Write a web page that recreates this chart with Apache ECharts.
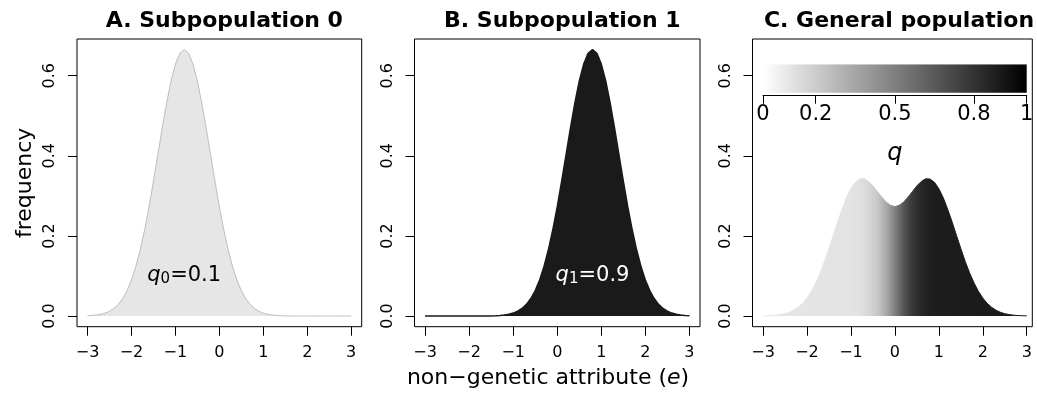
<!DOCTYPE html>
<html>
<head>
<meta charset="utf-8">
<script src="https://cdn.jsdelivr.net/npm/echarts@6/dist/echarts.min.js"></script>
<style>
html,body{margin:0;padding:0;background:#fff;}
#chart{width:1037px;height:395px;}
</style>
</head>
<body>
<div id="chart"></div>
<script>
// ---- data ----
const xs = [-3.0,-2.9,-2.8,-2.7,-2.6,-2.5,-2.4,-2.3,-2.2,-2.1,-2.0,-1.9,-1.8,-1.7,-1.6,-1.5,-1.4,-1.3,-1.2,-1.1,-1.0,-0.9,-0.8,-0.7,-0.6,-0.5,-0.4,-0.3,-0.2,-0.1,0.0,0.1,0.2,0.3,0.4,0.5,0.6,0.7,0.8,0.9,1.0,1.1,1.2,1.3,1.4,1.5,1.6,1.7,1.8,1.9,2.0,2.1,2.2,2.3,2.4,2.5,2.6,2.7,2.8,2.9,3.0];
const freqSub0 = [0.0008,0.0015,0.0026,0.0044,0.0074,0.0120,0.0190,0.0292,0.0437,0.0636,0.090,0.124,0.166,0.216,0.273,0.337,0.403,0.470,0.532,0.587,0.629,0.656,0.665,0.656,0.629,0.587,0.532,0.470,0.403,0.337,0.273,0.216,0.166,0.124,0.090,0.0636,0.0437,0.0292,0.0190,0.0120,0.0074,0.0044,0.0026,0.0015,0.0008,0.0004,0.0002,0.0001,0,0,0,0,0,0,0,0,0,0,0,0,0];
const freqSub1 = [0,0,0,0,0,0,0,0,0,0,0,0,0,0.0001,0.0002,0.0004,0.0008,0.0015,0.0026,0.0044,0.0074,0.0120,0.0190,0.0292,0.0437,0.0636,0.090,0.124,0.166,0.216,0.273,0.337,0.403,0.470,0.532,0.587,0.629,0.656,0.665,0.656,0.629,0.587,0.532,0.470,0.403,0.337,0.273,0.216,0.166,0.124,0.090,0.0636,0.0437,0.0292,0.0190,0.0120,0.0074,0.0044,0.0026,0.0015,0.0008];
const freqGeneral = [0.0004,0.0008,0.0013,0.0022,0.0037,0.0060,0.0095,0.0146,0.0219,0.0318,0.045,0.062,0.083,0.108,0.1365,0.1687,0.2019,0.2358,0.267,0.2957,0.318,0.334,0.342,0.3426,0.336,0.325,0.311,0.297,0.2845,0.2765,0.273,0.2765,0.2845,0.297,0.311,0.325,0.336,0.3426,0.342,0.334,0.318,0.2957,0.267,0.2358,0.2019,0.1687,0.1365,0.108,0.083,0.062,0.045,0.0318,0.0219,0.0146,0.0095,0.0060,0.0037,0.0022,0.0013,0.0008,0.0004];
const xTicks = [-3,-2,-1,0,1,2,3];
const yTicks = [0,0.2,0.4,0.6];
const qTicks = [0,0.2,0.5,0.8,1];
const q0 = 0.1, q1 = 0.9;
const q0Pos = [-0.8, 0.1], q1Pos = [0.8, 0.1];
const panelTitles = ['A. Subpopulation 0','B. Subpopulation 1','C. General population'];
const xTitle = 'non\u2212genetic attribute (';
const yTitle = 'frequency';

// ---- chart ----
const FONT = 'DejaVu Sans';
const pairs = ys => xs.map((x,i)=>[x, ys[i]]);
const fmtX = v => v < 0 ? '\u2212' + Math.abs(v) : String(v);

const grids = [
  {left:77, top:39, width:284.7, height:287.7},
  {left:414.5, top:39, width:285.5, height:287.7},
  {left:752.5, top:39, width:279.8, height:287.7},
  {left:763, top:64.3, width:263.7, height:31.4}
].map(g => Object.assign({show:false, containLabel:false}, g));
[0,1,2].forEach(i => { grids[i].show = true; grids[i].borderColor = '#000'; grids[i].borderWidth = 1; grids[i].backgroundColor = 'transparent'; });

const xMax = [3.24, 3.24, 3.127];
const xAxes = [0,1,2].map(i => ({
  type:'value', gridIndex:i, min:-3.24, max:xMax[i], position:'bottom',
  axisLine:{show:false, onZero:false}, splitLine:{show:false},
  axisTick:{show:true, customValues:xTicks, length:9, lineStyle:{color:'#000', width:1}},
  axisLabel:{show:true, customValues:xTicks, formatter:fmtX, margin:18, color:'#000', fontFamily:FONT, fontSize:16}
}));
xAxes.push({
  type:'value', gridIndex:3, min:0, max:1, position:'bottom',
  axisLine:{show:true, onZero:false, lineStyle:{color:'#000', width:1}}, splitLine:{show:false},
  axisTick:{show:true, customValues:qTicks, length:8, lineStyle:{color:'#000', width:1}},
  axisLabel:{show:true, customValues:qTicks, formatter:v=>String(v), margin:8, color:'#000', fontFamily:FONT, fontSize:21},
  name:'q', nameLocation:'middle', nameGap:46,
  nameTextStyle:{fontStyle:'italic', fontFamily:FONT, fontSize:24, color:'#000'}
});
const yAxes = [0,1,2].map(i => ({
  type:'value', gridIndex:i, min:-0.0266, max:0.6916, position:'left',
  axisLine:{show:false, onZero:false}, splitLine:{show:false},
  axisTick:{show:true, customValues:yTicks, length:9, lineStyle:{color:'#000', width:1}},
  axisLabel:{show:true, customValues:yTicks, formatter:v=>v.toFixed(1), rotate:90, margin:19, color:'#000', fontFamily:FONT, fontSize:16}
}));
yAxes[0].name = yTitle;
yAxes[0].nameLocation = 'middle';
yAxes[0].nameGap = 41;
yAxes[0].nameRotate = 90;
yAxes[0].nameTextStyle = {fontFamily:FONT, fontSize:22, color:'#000'};
yAxes.push({type:'value', gridIndex:3, min:-0.1, max:1, show:false});

const generalGradient = {
  type:'linear', x:0, y:0, x2:1, y2:0,
  colorStops:[
    {offset:0, color:'#e6e6e6'},
    {offset:0.3333, color:'#e3e3e3'},
    {offset:0.3667, color:'#e0e0e0'},
    {offset:0.4, color:'#d8d8d8'},
    {offset:0.4333, color:'#c8c8c8'},
    {offset:0.4667, color:'#aaaaaa'},
    {offset:0.5, color:'#808080'},
    {offset:0.5333, color:'#555555'},
    {offset:0.5667, color:'#373737'},
    {offset:0.6, color:'#272727'},
    {offset:0.6333, color:'#1f1f1f'},
    {offset:0.6667, color:'#1c1c1c'},
    {offset:1, color:'#1a1a1a'}
  ]
};
const barGradient = {type:'linear', x:0, y:0, x2:1, y2:0, colorStops:[{offset:0,color:'#ffffff'},{offset:1,color:'#000000'}]};

const rich = (col) => ({
  q:{fontStyle:'italic', fontFamily:FONT, fontSize:21, lineHeight:21, color:col, verticalAlign:'bottom', textBorderWidth:0},
  s:{fontFamily:FONT, fontSize:15, lineHeight:15, color:col, verticalAlign:'bottom', textBorderWidth:0},
  n:{fontFamily:FONT, fontSize:21, lineHeight:21, color:col, verticalAlign:'bottom', textBorderWidth:0}
});
const qLabel = (pos, sub, val, col, gi) => ({
  type:'scatter', xAxisIndex:gi, yAxisIndex:gi, symbol:'circle', symbolSize:1, silent:true, z:10,
  itemStyle:{color:'rgba(0,0,0,0)'},
  data:[pos],
  emphasis:{disabled:true},
  label:{show:true, position:'inside', color:col, opacity:1, textBorderWidth:0, textBorderColor:'transparent',
    formatter:'{q|q}{s|'+sub+'}{n|='+val+'}', rich:rich(col)}
});

const option = {
  animation:false,
  backgroundColor:'#fff',
  title:[
    {text:panelTitles[0], left:219.3, top:5, textAlign:'center', textStyle:{fontFamily:FONT, fontWeight:'bold', fontSize:22, color:'#000'}},
    {text:panelTitles[1], left:557.3, top:5, textAlign:'center', textStyle:{fontFamily:FONT, fontWeight:'bold', fontSize:22, color:'#000'}},
    {text:panelTitles[2], left:894, top:5, textAlign:'center', textStyle:{fontFamily:FONT, fontWeight:'bold', fontSize:22, color:'#000'}},
    {text:'{a|'+xTitle+'}{i|e}{a|)}', left:543, top:362, textAlign:'center',
      textStyle:{fontWeight:'normal', rich:{a:{fontFamily:FONT, fontSize:22, fontWeight:'normal', color:'#000'}, i:{fontFamily:FONT, fontSize:22, fontWeight:'normal', fontStyle:'italic', color:'#000'}}}}
  ],
  grid:grids,
  xAxis:xAxes,
  yAxis:yAxes,
  series:[
    {type:'line', xAxisIndex:0, yAxisIndex:0, data:pairs(freqSub0), showSymbol:false, symbol:'none', silent:true,
      lineStyle:{color:'#9a9a9a', width:0.6}, areaStyle:{color:'#e6e6e6', opacity:1}},
    {type:'line', xAxisIndex:1, yAxisIndex:1, data:pairs(freqSub1), showSymbol:false, symbol:'none', silent:true,
      lineStyle:{color:'#1a1a1a', width:1.5}, areaStyle:{color:'#1a1a1a', opacity:1}},
    {type:'line', xAxisIndex:2, yAxisIndex:2, data:pairs(freqGeneral), showSymbol:false, symbol:'none', silent:true,
      lineStyle:{color:generalGradient, width:1}, areaStyle:{color:generalGradient, opacity:1}},
    {type:'line', xAxisIndex:3, yAxisIndex:3, data:[[0,1],[1,1]], showSymbol:false, symbol:'none', silent:true,
      lineStyle:{width:0}, areaStyle:{color:barGradient, opacity:1}},
    qLabel(q0Pos, '0', q0, '#000', 0),
    qLabel(q1Pos, '1', q1, '#fff', 1)
  ]
};
const chart = echarts.init(document.getElementById('chart'), null, {renderer:'canvas'});
chart.setOption(option);
</script>
</body>
</html>
